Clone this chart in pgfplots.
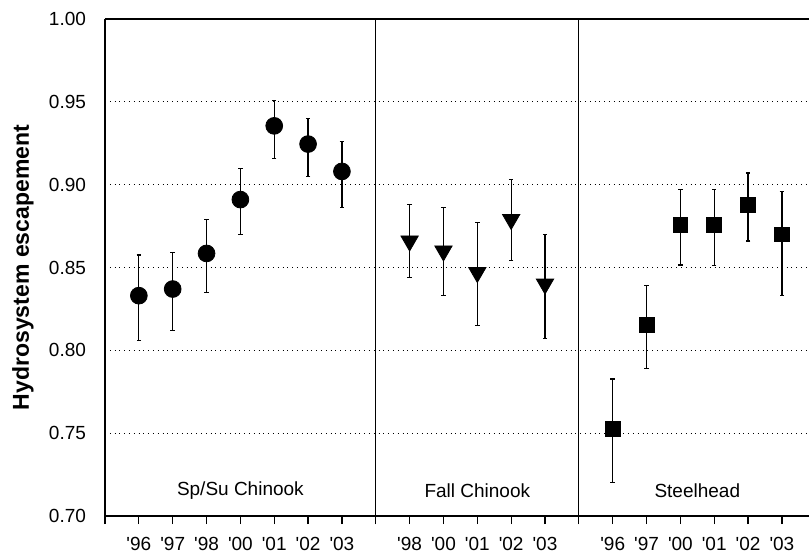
\documentclass[border=0pt]{standalone}
\usepackage{fontspec}
\setmainfont{Liberation Sans}
\usepackage{pgfplots}
\usepackage{pgfplotstable}
\pgfplotsset{compat=1.18}

% x, value, upper end, lower end of the bar
\pgfplotstableread{
x y hi lo
1 0.8330 0.8575 0.8060
2 0.8370 0.8590 0.8120
3 0.8585 0.8790 0.8350
4 0.8910 0.9100 0.8700
5 0.9355 0.9510 0.9160
6 0.9245 0.9400 0.9050
7 0.9080 0.9260 0.8860
}\spsu
\pgfplotstableread{
x y hi lo
9  0.8660 0.8880 0.8440
10 0.8600 0.8860 0.8330
11 0.8470 0.8770 0.8150
12 0.8790 0.9030 0.8540
13 0.8400 0.8700 0.8070
}\fall
\pgfplotstableread{
x y hi lo
15 0.7525 0.7827 0.7200
16 0.8155 0.8390 0.7890
17 0.8755 0.8970 0.8515
18 0.8755 0.8970 0.8510
19 0.8880 0.9070 0.8660
20 0.8700 0.8960 0.8330
}\steel

\pgfplotstablecreatecol[expr={\thisrow{hi}-\thisrow{y}}]{ep}\spsu
\pgfplotstablecreatecol[expr={\thisrow{y}-\thisrow{lo}}]{em}\spsu
\pgfplotstablecreatecol[expr={\thisrow{hi}-\thisrow{y}}]{ep}\fall
\pgfplotstablecreatecol[expr={\thisrow{y}-\thisrow{lo}}]{em}\fall
\pgfplotstablecreatecol[expr={\thisrow{hi}-\thisrow{y}}]{ep}\steel
\pgfplotstablecreatecol[expr={\thisrow{y}-\thisrow{lo}}]{em}\steel

\newcommand{\yr}[1]{\textquotesingle#1}

\begin{document}
\begin{tikzpicture}[font=\fontsize{9.5}{11}\selectfont]
\useasboundingbox (-52.5pt,-18pt) rectangle (352pt,258pt);
\begin{axis}[
  scale only axis,
  width=352pt, height=248.5pt,
  xmin=0, xmax=20.8,
  ymin=0.70, ymax=1.00,
  axis lines=left,
  axis line style={-, black, line width=0.6pt},
  xtick={0,...,20},
  xticklabels={,\yr{96},\yr{97},\yr{98},\yr{00},\yr{01},\yr{02},\yr{03},,
    \yr{98},\yr{00},\yr{01},\yr{02},\yr{03},,
    \yr{96},\yr{97},\yr{00},\yr{01},\yr{02},\yr{03}},
  xtick align=outside,
  major tick length=4pt,
  xtick style={black, line width=0.6pt},
  xticklabel style={yshift=-3pt},
  ytick={0.70,0.75,...,1.001},
  ytick style={draw=none},
  yticklabel style={xshift=-4pt},
  /pgf/number format/.cd, fixed, fixed zerofill, precision=2, assume math mode=true,
  /pgfplots/.cd,
  ymajorgrids,
  grid style={black, dotted, line width=0.5pt},
  extra x ticks={8,14},
  extra x tick labels={},
  extra x tick style={grid=major, major grid style={solid, black, line width=0.5pt}},
  every axis y label/.style={at={(axis description cs:-0.1165,0.5)}, anchor=center, rotate=90},
  ylabel={\bfseries\fontsize{11.5}{13}\selectfont Hydrosystem escapement},
  error bars/y dir=both,
  error bars/y explicit,
  error bars/error bar style={black, line width=0.6pt},
  error bars/error mark options={rotate=90, mark size=1.1pt, line width=0.6pt},
  clip=false,
]
\addplot[only marks, mark=*, mark size=4.2pt, black]
  table[x=x, y=y, y error plus=ep, y error minus=em] {\spsu};
\addplot[only marks, mark=triangle*, mark size=5pt, black,
  mark options={rotate=180}]
  table[x=x, y=y, y error plus=ep, y error minus=em] {\fall};
\addplot[only marks, mark=square*, mark size=3.7pt, black]
  table[x=x, y=y, y error plus=ep, y error minus=em] {\steel};

\draw[black, line width=0.6pt] (rel axis cs:0,1) -- (rel axis cs:1,1);
\node at (axis cs:4,0.7155) {Sp/Su Chinook};
\node at (axis cs:11,0.7155) {Fall Chinook};
\node at (axis cs:17.5,0.7155) {Steelhead};
\end{axis}
\end{tikzpicture}
\end{document}
